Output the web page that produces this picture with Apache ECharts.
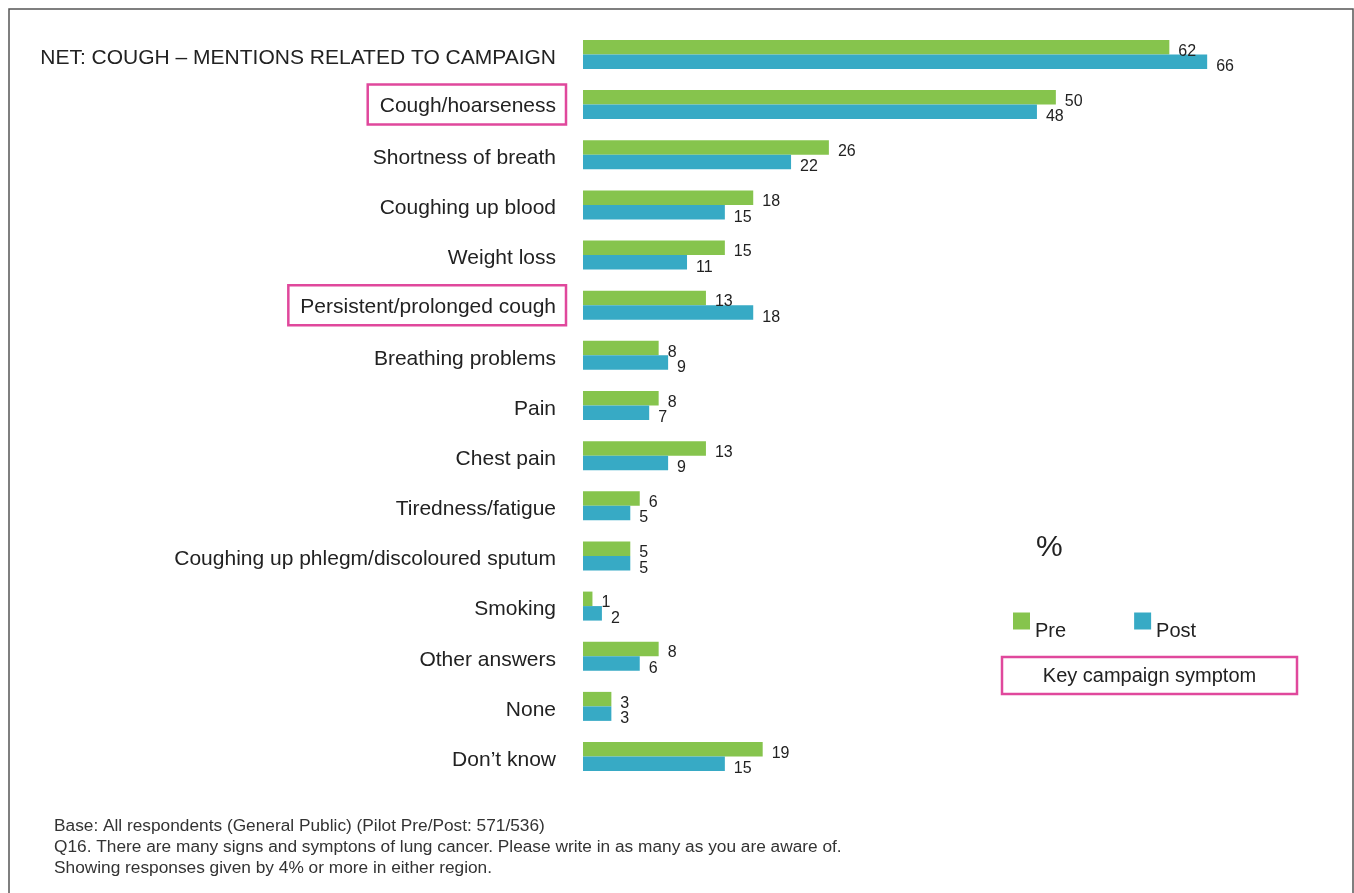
<!DOCTYPE html>
<html>
<head>
<meta charset="utf-8">
<title>Lung cancer signs - Pre/Post</title>
<script src="https://cdn.jsdelivr.net/npm/echarts@6/dist/echarts.min.js"></script>
<style>
	html, body { margin: 0; padding: 0; background: #fff; }
	#main { width: 1354px; height: 893px; }
</style>
</head>
<body>
<div id="main"></div>
<script>
// categories, top to bottom
var categories = ['NET: COUGH – MENTIONS RELATED TO CAMPAIGN', 'Cough/hoarseness', 'Shortness of breath', 'Coughing up blood',
	'Weight loss', 'Persistent/prolonged cough', 'Breathing problems', 'Pain', 'Chest pain', 'Tiredness/fatigue',
	'Coughing up phlegm/discoloured sputum', 'Smoking', 'Other answers', 'None', 'Don’t know'];
var preValues = [62, 50, 26, 18, 15, 13, 8, 8, 13, 6, 5, 1, 8, 3, 19];
var postValues = [66, 48, 22, 15, 11, 18, 9, 7, 9, 5, 5, 2, 6, 3, 15];
// key campaign symptoms get the pink box
var keySymptoms = ['Cough/hoarseness', 'Persistent/prolonged cough'];
var footnotes = ['Base: All respondents (General Public) (Pilot Pre/Post: 571/536)',
	'Q16. There are many signs and symptons of lung cancer. Please write in as many as you are aware of.',
	'Showing responses given by 4% or more in either region.'];

var FONT = '"Liberation Sans", Arial, Helvetica, sans-serif';
var PINK = '#e0489c';
var GREEN = '#86c44d';
var BLUE = '#37aac5';

var myChart = echarts.init(document.getElementById('main'));

var option = {
	backgroundColor: '#fff',
	animation: false,
	textStyle: { fontFamily: FONT },
	grid: {
		left: 583,
		right: 109,
		top: 29.4,
		bottom: 111.4
	},
	legend: {
		left: 1013,
		top: 612.5,
		padding: 0,
		itemWidth: 17,
		itemHeight: 17,
		itemGap: 68,
		icon: 'rect',
		data: ['Pre', 'Post'],
		formatter: '{t|{name}}',
		textStyle: {
			fontSize: 20, color: '#222', fontFamily: FONT,
			rich: { t: { fontSize: 20, color: '#222', fontFamily: FONT, padding: [21, 0, 0, 0] } }
		}
	},
	xAxis: {
		type: 'value',
		min: 0,
		max: 70,
		show: false
	},
	yAxis: {
		type: 'category',
		inverse: true,
		data: categories,
		axisLine: { show: false },
		axisTick: { show: false },
		splitLine: { show: false },
		axisLabel: {
			margin: 17,
			formatter: function(v) {
				//关键症状加框
				if(keySymptoms.indexOf(v) >= 0) return '{box|' + v + '}';
				return '{n|' + v + '}';
			},
			rich: {
				n: { fontSize: 21, color: '#222', fontFamily: FONT, padding: [7, 10, 0, 0] },
				box: {
					fontSize: 21, color: '#222', fontFamily: FONT, lineHeight: 22,
					padding: [11, 10, 8, 12], borderColor: PINK, borderWidth: 2.5
				}
			}
		}
	},
	series: [
		{
			name: 'Pre',
			type: 'bar',
			barWidth: 14.5,
			barGap: '0%',
			itemStyle: { color: GREEN },
			label: { show: true, position: 'right', distance: 9, offset: [0, 4], fontSize: 16, color: '#222', fontFamily: FONT },
			data: preValues
		},
		{
			name: 'Post',
			type: 'bar',
			barWidth: 14.5,
			barGap: '0%',
			itemStyle: { color: BLUE },
			label: { show: true, position: 'right', distance: 9, offset: [0, 5], fontSize: 16, color: '#222', fontFamily: FONT },
			data: postValues
		}
	],
	graphic: [
		// outer frame
		{ type: 'rect', shape: { x: 9, y: 9, width: 1344, height: 900 }, style: { fill: null, stroke: '#555', lineWidth: 1.5 }, silent: true },
		{ type: 'text', left: 1036, top: 533, style: { text: '%', fontSize: 30, fill: '#222', fontFamily: FONT } },
		// key campaign symptom box
		{ type: 'rect', shape: { x: 1002, y: 657, width: 295, height: 37 }, style: { fill: null, stroke: PINK, lineWidth: 2.5 } },
		{ type: 'text', x: 1149.5, y: 676, style: { text: 'Key campaign symptom', fontSize: 20, fill: '#222', fontFamily: FONT, align: 'center', verticalAlign: 'middle' } },
		// footnotes
		{ type: 'text', x: 54, y: 826, style: { text: footnotes[0], fontSize: 17.3, fill: '#333', fontFamily: FONT, verticalAlign: 'middle' } },
		{ type: 'text', x: 54, y: 847, style: { text: footnotes[1], fontSize: 17.3, fill: '#333', fontFamily: FONT, verticalAlign: 'middle' } },
		{ type: 'text', x: 54, y: 868, style: { text: footnotes[2], fontSize: 17.3, fill: '#333', fontFamily: FONT, verticalAlign: 'middle' } }
	]
};
myChart.setOption(option);
</script>
</body>
</html>
